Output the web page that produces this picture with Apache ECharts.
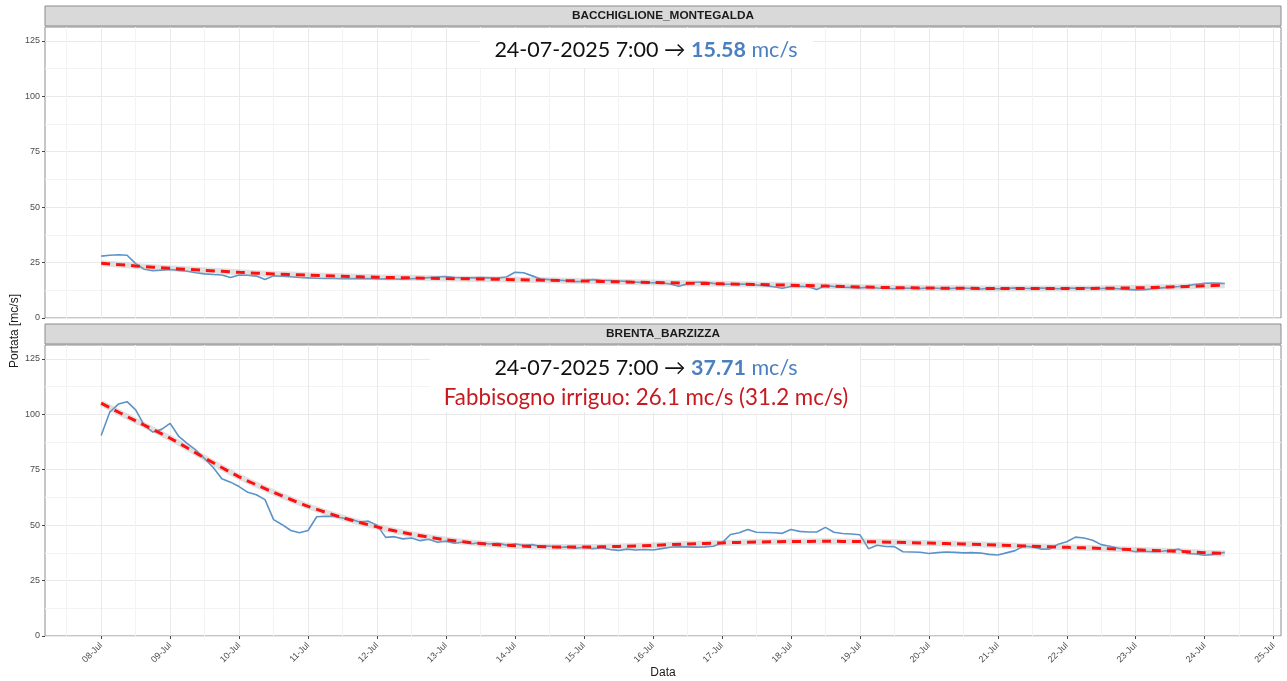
<!DOCTYPE html>
<html>
<head>
<meta charset="utf-8">
<script src="https://cdn.jsdelivr.net/npm/echarts@6/dist/echarts.min.js"></script>
<style>
  html, body { margin: 0; padding: 0; background: #ffffff; }
  #chart { width: 1287px; height: 681px; }
</style>
</head>
<body>
<div id="chart"></div>
<script>
// Portata misurata ogni 3 ore a partire dal 08-Jul 00:00, più l'ultima lettura (24-Jul 7:00)
const giornoInizio = 8;
const passoOre = 3;
const oraUltimaLettura = 391;
const dataUltimaLettura = '24-07-2025 7:00';

const bacchiglione = [
  27.9, 28.3, 28.5, 28.3, 24.5, 22.0, 21.3, 21.6, 21.9, 21.5,
  21.1, 20.4, 19.9, 19.6, 19.4, 18.3, 19.4, 19.3, 18.9, 17.4,
  19.0, 18.8, 18.6, 18.3, 18.1, 17.9, 17.8, 17.8, 17.7, 17.8,
  17.7, 17.8, 17.6, 17.7, 17.6, 17.5, 17.7, 17.9, 18.2, 18.5,
  18.7, 18.3, 18.1, 18.1, 18.2, 18.1, 18.0, 18.5, 20.6, 20.4,
  19.0, 17.6, 17.3, 17.1, 16.8, 16.4, 16.6, 17.3, 17.0, 16.9,
  16.7, 16.5, 16.2, 16.0, 15.9, 15.9, 15.3, 14.3, 15.4, 16.1,
  16.2, 15.6, 15.2, 15.2, 15.3, 15.2, 14.9, 14.6, 14.1, 13.4,
  14.2, 14.3, 14.1, 12.9, 14.6, 14.2, 13.9, 13.8, 13.6, 13.9,
  13.5, 13.4, 13.2, 13.5, 13.4, 13.3, 13.6, 13.4, 13.2, 13.4,
  13.5, 13.3, 13.1, 13.4, 13.2, 13.3, 13.6, 13.4, 13.3, 13.5,
  13.4, 13.2, 13.5, 13.4, 13.6, 13.5, 13.3, 13.4, 13.2, 12.9,
  12.7, 12.8, 13.2, 13.6, 13.9, 14.2, 14.6, 15.2, 15.7, 15.8,
  15.6, 15.58
];

const brenta = [
  90.4, 101.0, 104.6, 105.7, 102.0, 95.0, 92.0, 93.2, 95.9, 90.0,
  86.8, 83.8, 80.0, 76.0, 70.9, 69.4, 67.4, 64.8, 63.7, 61.5,
  52.5, 50.2, 47.6, 46.6, 47.6, 53.8, 54.0, 53.9, 53.2, 52.5,
  51.4, 51.8, 50.0, 44.5, 44.8, 43.8, 44.2, 43.0, 43.6, 42.3,
  42.8, 41.8, 42.4, 41.6, 42.2, 41.5, 41.8, 41.0, 41.6, 40.8,
  41.2, 40.3, 40.6, 39.8, 40.2, 39.6, 40.0, 39.4, 39.8, 39.0,
  38.6, 39.2, 38.8, 39.0, 38.8, 39.4, 40.0, 40.3, 40.2, 40.1,
  40.2, 40.5, 42.0, 45.8, 46.6, 48.0, 46.8, 46.7, 46.6, 46.3,
  48.0, 47.2, 46.9, 46.9, 49.0, 46.8, 46.2, 46.0, 45.7, 39.4,
  40.9, 40.4, 40.3, 38.0, 37.9, 37.8, 37.2, 37.6, 37.9, 37.7,
  37.5, 37.6, 37.4, 36.8, 36.5, 37.5, 38.5, 40.5, 40.2, 39.2,
  39.2, 41.4, 42.5, 44.6, 44.2, 43.2, 41.2, 40.5, 39.6, 38.8,
  38.0, 38.2, 38.0, 38.2, 38.6, 39.2, 37.2, 37.0, 36.4, 36.8,
  37.5, 37.71
];

// Curva di tendenza, un valore ogni 12 ore più l'ultima ora
const oreTendenza = [
  0, 12, 24, 36, 48, 60, 72, 84, 96, 108, 120, 132, 144, 156, 168, 180, 192,
  204, 216, 228, 240, 252, 264, 276, 288, 300, 312, 324, 336, 348, 360, 372, 384, 391
];
const tendenzaBacchiglione = [
  24.7, 23.5, 22.4, 21.5, 20.6, 19.9, 19.3, 18.8, 18.4, 18.1, 17.8, 17.6, 17.3, 17.0, 16.7, 16.3, 16.0,
  15.7, 15.4, 15.1, 14.8, 14.4, 14.0, 13.7, 13.5, 13.4, 13.3, 13.3, 13.3, 13.4, 13.6, 14.0, 14.5, 14.8
];
const tendenzaBrenta = [
  105.0, 97.0, 89.2, 80.3, 71.8, 64.8, 58.5, 53.4, 49.2, 45.9, 43.4, 41.7, 40.7, 40.2, 40.1, 40.4, 40.9,
  41.5, 42.0, 42.4, 42.6, 42.7, 42.6, 42.3, 41.9, 41.5, 41.0, 40.5, 40.0, 39.5, 38.9, 38.3, 37.6, 37.2
];

const fabbisognoIrriguo = 26.1;
const fabbisognoIrriguoMax = 31.2;

const giorniAsse = [8, 9, 10, 11, 12, 13, 14, 15, 16, 17, 18, 19, 20, 21, 22, 23, 24, 25];
const mezziGiorni = [7.5, 8.5, 9.5, 10.5, 11.5, 12.5, 13.5, 14.5, 15.5, 16.5, 17.5, 18.5, 19.5, 20.5, 21.5, 22.5, 23.5, 24.5];
const portataTicks = [0, 25, 50, 75, 100, 125];
const portataMinor = [12.5, 37.5, 62.5, 87.5, 112.5];

const stazioni = ['BACCHIGLIONE_MONTEGALDA', 'BRENTA_BARZIZZA'];

// ---- costruzione del grafico ----
const oreMisura = bacchiglione.map((_, i) => (i === bacchiglione.length - 1 ? oraUltimaLettura : i * passoOre));
const giorno = ore => giornoInizio + ore / 24;
const spanGiorni = oraUltimaLettura / 24;
const xMin = giornoInizio - 0.05 * spanGiorni;
const xMax = giornoInizio + spanGiorni * 1.05;
const yMax = 131.25;

const pannelli = [
  { left: 45, top: 27, width: 1236, height: 291 },
  { left: 45, top: 345, width: 1236, height: 291 }
];

const fontAssi = 'Liberation Sans, Arial, sans-serif';

function assiX(gridIndex, conEtichette) {
  return [{
    type: 'value', gridIndex, min: xMin, max: xMax,
    axisLine: { show: false },
    axisTick: { show: conEtichette, customValues: giorniAsse, length: 3, lineStyle: { color: '#444', width: 1 } },
    axisLabel: {
      show: conEtichette, customValues: giorniAsse, rotate: 45, fontSize: 9, color: '#4d4d4d',
      margin: 8, fontFamily: fontAssi,
      formatter: v => String(Math.round(v)).padStart(2, '0') + '-Jul'
    },
    splitLine: { show: true, lineStyle: { color: '#e9e9e9', width: 1 } }
  }, {
    type: 'value', gridIndex, min: xMin, max: xMax,
    axisLine: { show: false },
    axisTick: { show: false, customValues: mezziGiorni },
    axisLabel: { show: false, customValues: mezziGiorni },
    splitLine: { show: true, lineStyle: { color: '#f3f3f3', width: 1 } }
  }];
}

function assiY(gridIndex) {
  return [{
    type: 'value', gridIndex, min: 0, max: yMax,
    axisLine: { show: false },
    axisTick: { show: true, customValues: portataTicks, length: 3, lineStyle: { color: '#444', width: 1 } },
    axisLabel: { customValues: portataTicks, fontSize: 9, color: '#4d4d4d', margin: 5, fontFamily: fontAssi },
    splitLine: { show: true, lineStyle: { color: '#e9e9e9', width: 1 } }
  }, {
    type: 'value', gridIndex, min: 0, max: yMax,
    axisLine: { show: false },
    axisTick: { show: false, customValues: portataMinor },
    axisLabel: { show: false, customValues: portataMinor },
    splitLine: { show: true, lineStyle: { color: '#f3f3f3', width: 1 } }
  }];
}

function serieStazione(indice, valori, tendenza) {
  const xi = indice * 2, yi = indice * 2;
  const puntiTendenza = tendenza.map((v, i) => [giorno(oreTendenza[i]), v]);
  return [{
    type: 'line', xAxisIndex: xi, yAxisIndex: yi, silent: true,
    data: valori.map((v, i) => [giorno(oreMisura[i]), v]),
    showSymbol: false, symbol: 'none',
    lineStyle: { color: '#5b93c8', width: 1.6 }
  }, {
    type: 'line', xAxisIndex: xi, yAxisIndex: yi, silent: true,
    data: puntiTendenza, smooth: 0.3,
    showSymbol: false, symbol: 'none',
    lineStyle: { color: 'rgba(165,165,165,0.33)', width: 6, cap: 'butt' }
  }, {
    type: 'line', xAxisIndex: xi, yAxisIndex: yi, silent: true,
    data: puntiTendenza, smooth: 0.3,
    showSymbol: false, symbol: 'none',
    lineStyle: { color: '#ff1010', width: 3, type: [9, 6] }
  }];
}

function striscia(pannello, testo) {
  return [{
    type: 'rect', z: 20,
    shape: { x: pannello.left, y: pannello.top - 21, width: pannello.width, height: 20 },
    style: { fill: '#d9d9d9', stroke: '#8c8c8c', lineWidth: 1 }
  }, {
    type: 'text', z: 21, x: pannello.left + pannello.width / 2, y: pannello.top - 11,
    style: { text: testo, fontSize: 11.8, fontWeight: 'bold', fontFamily: fontAssi, fill: '#1a1a1a', align: 'center', verticalAlign: 'middle' }
  }];
}

const fontNota = 'Lato, "Open Sans", sans-serif';
const blu = '#4a80c0';
const rosso = '#c8191e';
const stileNota = {
  n: { fontSize: 21.5, fontFamily: fontNota, fill: '#111111' },
  v: { fontSize: 21.5, fontFamily: fontNota, fill: blu, fontWeight: 'bold' },
  u: { fontSize: 21.5, fontFamily: fontNota, fill: blu },
  r: { fontSize: 22.3, fontFamily: fontNota, fill: rosso }
};

function testoLettura(valore) {
  return '{n|' + dataUltimaLettura + ' → }{v|' + valore.toFixed(2) + '}{u| mc/s}';
}

const graphic = [
  ...striscia(pannelli[0], stazioni[0]),
  ...striscia(pannelli[1], stazioni[1]),
  { type: 'rect', z: 20, shape: { x: 480, y: 28, width: 333, height: 40 }, style: { fill: '#ffffff' } },
  {
    type: 'text', z: 21, x: 646, y: 50,
    style: { text: testoLettura(bacchiglione[bacchiglione.length - 1]), rich: stileNota, align: 'center', verticalAlign: 'middle' }
  },
  { type: 'rect', z: 20, shape: { x: 430, y: 346, width: 430, height: 66 }, style: { fill: '#ffffff' } },
  {
    type: 'text', z: 21, x: 646, y: 368,
    style: { text: testoLettura(brenta[brenta.length - 1]), rich: stileNota, align: 'center', verticalAlign: 'middle' }
  },
  {
    type: 'text', z: 21, x: 646, y: 398,
    style: {
      text: '{r|Fabbisogno irriguo: ' + fabbisognoIrriguo.toFixed(1) + ' mc/s (' + fabbisognoIrriguoMax.toFixed(1) + ' mc/s)}',
      rich: stileNota, align: 'center', verticalAlign: 'middle'
    }
  },
  {
    type: 'text', z: 21, x: 15, y: 331, rotation: Math.PI / 2,
    style: { text: 'Portata [mc/s]', fontSize: 12, fontFamily: fontAssi, fill: '#1a1a1a', align: 'center', verticalAlign: 'middle' }
  },
  {
    type: 'text', z: 21, x: 663, y: 673,
    style: { text: 'Data', fontSize: 12, fontFamily: fontAssi, fill: '#1a1a1a', align: 'center', verticalAlign: 'middle' }
  }
];

const option = {
  backgroundColor: '#ffffff',
  animation: false,
  grid: pannelli.map(p => ({ ...p, show: true, borderColor: '#8c8c8c', borderWidth: 1, backgroundColor: '#ffffff', containLabel: false })),
  xAxis: [...assiX(0, false), ...assiX(1, true)],
  yAxis: [...assiY(0), ...assiY(1)],
  series: [
    ...serieStazione(0, bacchiglione, tendenzaBacchiglione),
    ...serieStazione(1, brenta, tendenzaBrenta)
  ],
  graphic
};

const chart = echarts.init(document.getElementById('chart'));
chart.setOption(option);
</script>
</body>
</html>
